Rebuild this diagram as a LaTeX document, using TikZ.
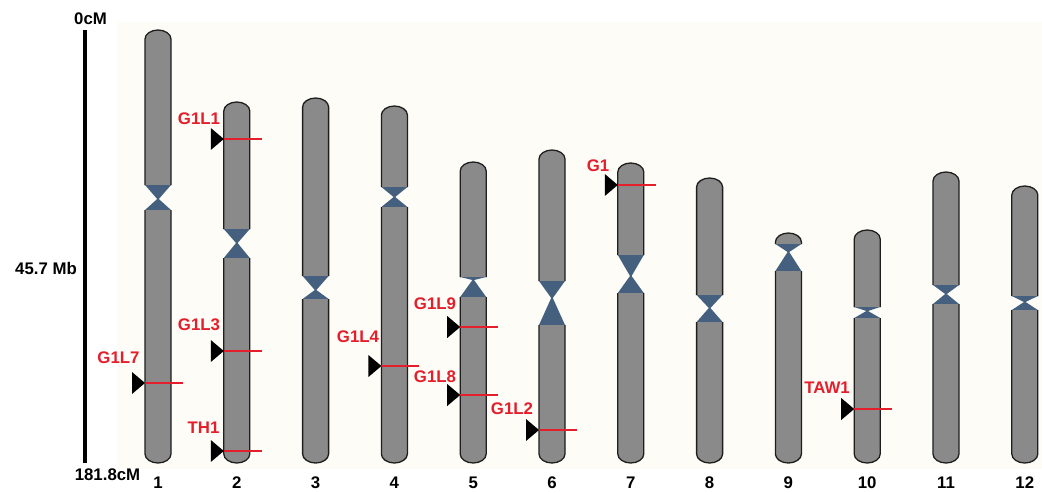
\documentclass[tikz,border=0pt]{standalone}
\usepackage{fontspec}
\setmainfont{Liberation Sans}
\definecolor{chrgray}{HTML}{8A8A8A}
\definecolor{chredge}{HTML}{1E1E1E}
\definecolor{cenblue}{HTML}{44607E}
\definecolor{markred}{HTML}{E41E2B}
\definecolor{paper}{HTML}{FDFCF6}
\begin{document}
\begin{tikzpicture}[x=1pt,y=-1pt,
  armfill/.style={fill=chrgray},
  armedge/.style={draw=chredge,line width=1.3pt},
  cenfill/.style={fill=cenblue},
  probe/.style={draw=markred,line width=1.3pt},
  pointer/.style={fill=black},
  lbl/.style={font=\bfseries\fontsize{16.8}{18}\selectfont,text=markred,inner sep=0pt},
  axislbl/.style={font=\bfseries\fontsize{16.8}{18}\selectfont,text=black,inner sep=0pt}]
% canvas and plotting area
\useasboundingbox (0,0) rectangle (1042,491);
\fill[white] (0,0) rectangle (1042,491);
\fill[paper] (117,22) rectangle (1042,469);

% scale bar
\draw[line width=4pt] (85,30) -- (85,463);
\node[axislbl] (top) at (90.5,18.5) {0cM};
\node[axislbl] (mid) at (46,268) {45.7 Mb};
\node[axislbl] (bot) at (107.5,474.5) {181.8cM};

% chromosomes: number / top / upper centromere edge / pinch / lower centromere edge
\foreach \n/\t/\ca/\p/\cb [evaluate=\n as \cx using 158+78.8*(\n-1)] in
  {1/30/185/199/210, 2/102/229/243/258, 3/98/276/290/299, 4/106/187/197/207,
   5/162/277/280/297, 6/150/281/298/325, 7/163/255/276/293, 8/178/295/308/322,
   9/233/244/252/271, 10/230/307/311/318, 11/172/285/294/304, 12/186/296/302/310}{
  % short arm
  \fill[armfill] (\cx-13,\ca) -- (\cx-13,\t+9)
     .. controls (\cx-13,\t+4) and (\cx-7,\t) .. (\cx,\t)
     .. controls (\cx+7,\t) and (\cx+13,\t+4) .. (\cx+13,\t+9) -- (\cx+13,\ca) -- cycle;
  \draw[armedge] (\cx-13,\ca) -- (\cx-13,\t+9)
     .. controls (\cx-13,\t+4) and (\cx-7,\t) .. (\cx,\t)
     .. controls (\cx+7,\t) and (\cx+13,\t+4) .. (\cx+13,\t+9) -- (\cx+13,\ca);
  % centromere
  \fill[cenfill] (\cx-13,\ca) -- (\cx+13,\ca) -- (\cx+0.8,\p) -- (\cx-0.8,\p) -- cycle;
  \fill[cenfill] (\cx-13,\cb) -- (\cx+13,\cb) -- (\cx+0.8,\p) -- (\cx-0.8,\p) -- cycle;
  % long arm
  \fill[armfill] (\cx-13,\cb) -- (\cx-13,454)
     .. controls (\cx-13,459) and (\cx-7,463) .. (\cx,463)
     .. controls (\cx+7,463) and (\cx+13,459) .. (\cx+13,454) -- (\cx+13,\cb) -- cycle;
  \draw[armedge] (\cx-13,\cb) -- (\cx-13,454)
     .. controls (\cx-13,459) and (\cx-7,463) .. (\cx,463)
     .. controls (\cx+7,463) and (\cx+13,459) .. (\cx+13,454) -- (\cx+13,\cb);
  % chromosome number
  \node[axislbl] (num\n) at (\cx,482.5) {\n};
}

% mapped loci: name / chromosome / position / label centre
\foreach \lab/\chr/\my/\lx/\ly [evaluate=\chr as \ex using 158+78.8*(\chr-1)-13] in
  {G1L7/1/383/118.5/357.5, G1L1/2/139/199/119, G1L3/2/351/199/325,
   TH1/2/451/203.5/428, G1L4/4/366/358/337, G1L9/5/327/435/304,
   G1L8/5/395/435/377, G1L2/6/430/512/409, G1/7/185/598/165.5,
   TAW1/10/409/827/388}{
  \coordinate (m-\lab) at (\ex,\my);
  \draw[probe] (m-\lab) -- ++(38,0);
  \fill[pointer] (m-\lab) -- ++(-13,-11) -- ++(0,22) -- cycle;
  \node[lbl] (\lab) at (\lx,\ly) {\lab};
}
\end{tikzpicture}
\end{document}
